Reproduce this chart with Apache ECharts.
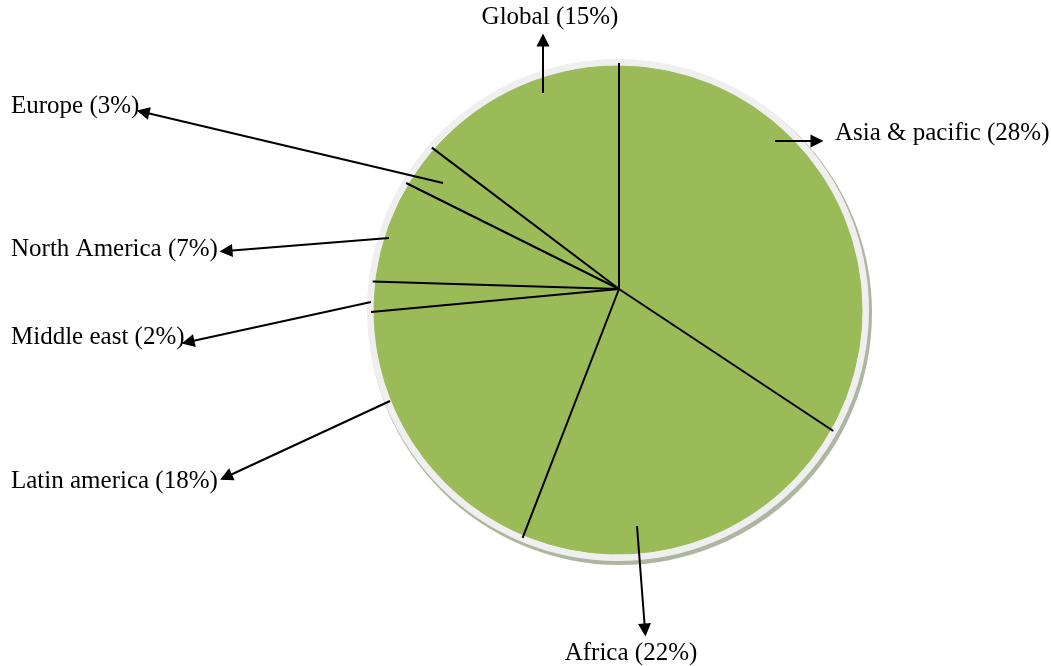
<!DOCTYPE html>
<html>
<head>
<meta charset="utf-8">
<script src="https://cdn.jsdelivr.net/npm/echarts@6/dist/echarts.min.js"></script>
<style>
    html, body { margin: 0; padding: 0; background: #fff; }
    #chart { width: 1051px; height: 666px; }
</style>
</head>
<body>
<div id="chart"></div>
<script>
// shares as printed in the labels, clockwise from 12 o'clock
const categories = ["Asia & pacific", "Africa", "Latin america", "Middle east", "North America", "Europe", "Global"]
const percents = [28, 22, 18, 2, 7, 3, 15]
// the drawing has an extra arc right after Asia & pacific with no separator line
const unlabeledShare = 7

// label placement (pixels) and arrows pointing from the pie to each label
const labelPlaces = {
    "Asia & pacific": { x: 835, y: 133, align: "left" },
    "Africa": { x: 631, y: 653, align: "center" },
    "Latin america": { x: 11, y: 481, align: "left" },
    "Middle east": { x: 11, y: 337, align: "left" },
    "North America": { x: 11, y: 249, align: "left" },
    "Europe": { x: 11, y: 106, align: "left" },
    "Global": { x: 550, y: 17, align: "center" }
}
const arrows = [
    [[775, 141], [817, 141]],
    [[637, 526], [645, 630]],
    [[390, 401], [226, 477]],
    [[371, 302], [188, 342]],
    [[389, 238], [226, 251]],
    [[443, 183], [143, 112]],
    [[543, 93], [543, 40]]
]

const pieCenter = [618, 310]
const pieRadius = 244
// the separators meet a little above the disc centre (tilted 3D look)
const apex = [619, 289]
const rimRadius = 247

let pieData = []
categories.forEach((name, i) => {
    pieData.push({ name: name, value: percents[i] })
    if (i === 0) {
        pieData.push({ name: "", value: unlabeledShare, label: { show: false } })
    }
})
const total = pieData.reduce((s, d) => s + d.value, 0)

// separator lines at the start of every labelled slice
let separators = []
let acc = 0
pieData.forEach((d) => {
    if (d.name) separators.push(acc)
    acc += d.value
})

const chart = echarts.init(document.getElementById("chart"))

function renderSeparator(params, api) {
    const angle = api.value(0)
    const p = api.coord([1, angle])
    const dx = (p[0] - apex[0]) / 100
    const dy = (p[1] - apex[1]) / 100
    // stretch the ray until it meets the rim of the disc
    const ox = apex[0] - pieCenter[0]
    const oy = apex[1] - pieCenter[1]
    const b = ox * dx + oy * dy
    const c = ox * ox + oy * oy - rimRadius * rimRadius
    const t = -b + Math.sqrt(b * b - c)
    return {
        type: "line",
        shape: { x1: apex[0], y1: apex[1], x2: apex[0] + t * dx, y2: apex[1] + t * dy },
        style: { stroke: "#000", lineWidth: 2 }
    }
}

const option = {
    animation: false,
    backgroundColor: "#fff",
    grid: { left: 0, right: 0, top: 0, bottom: 0 },
    xAxis: { type: "value", min: 0, max: 1051, show: false },
    yAxis: { type: "value", min: 0, max: 666, inverse: true, show: false },
    polar: { center: apex, radius: 100 },
    angleAxis: { type: "value", min: 0, max: total, startAngle: 90, clockwise: true, show: false },
    radiusAxis: { type: "value", min: 0, max: 1, show: false },
    series: [
        {
            // rim shadow
            type: "pie",
            silent: true,
            center: [pieCenter[0] + 2, pieCenter[1] + 3],
            radius: pieRadius + 8,
            label: { show: false },
            itemStyle: { color: "#aeb69f" },
            data: [1],
            z: 1
        },
        {
            // light rim
            type: "pie",
            silent: true,
            center: pieCenter,
            radius: pieRadius + 7,
            label: { show: false },
            itemStyle: { color: "#efefef" },
            data: [1],
            z: 2
        },
        {
            type: "pie",
            center: pieCenter,
            radius: pieRadius,
            startAngle: 90,
            clockwise: true,
            avoidLabelOverlap: false,
            itemStyle: { color: "#9bbb59", borderColor: "#9bbb59", borderWidth: 1 },
            label: {
                show: true,
                formatter: "{b} ({c}%)",
                fontFamily: "Liberation Serif",
                fontSize: 25,
                color: "#000"
            },
            labelLine: { show: false },
            labelLayout: function (params) {
                const name = pieData[params.dataIndex].name
                const p = labelPlaces[name]
                if (!p) return {}
                return { x: p.x, y: p.y, align: p.align, verticalAlign: "middle" }
            },
            data: pieData,
            z: 3
        },
        {
            type: "custom",
            coordinateSystem: "polar",
            silent: true,
            renderItem: renderSeparator,
            data: separators.map((a) => [a]),
            encode: { angle: 0 },
            z: 4
        },
        {
            type: "lines",
            coordinateSystem: "cartesian2d",
            silent: true,
            symbol: ["none", "triangle"],
            symbolSize: [0, 13],
            lineStyle: { color: "#000", width: 2, opacity: 1 },
            itemStyle: { color: "#000" },
            data: arrows.map((c) => ({ coords: c })),
            z: 5
        }
    ]
}

option && chart.setOption(option)
</script>
</body>
</html>
